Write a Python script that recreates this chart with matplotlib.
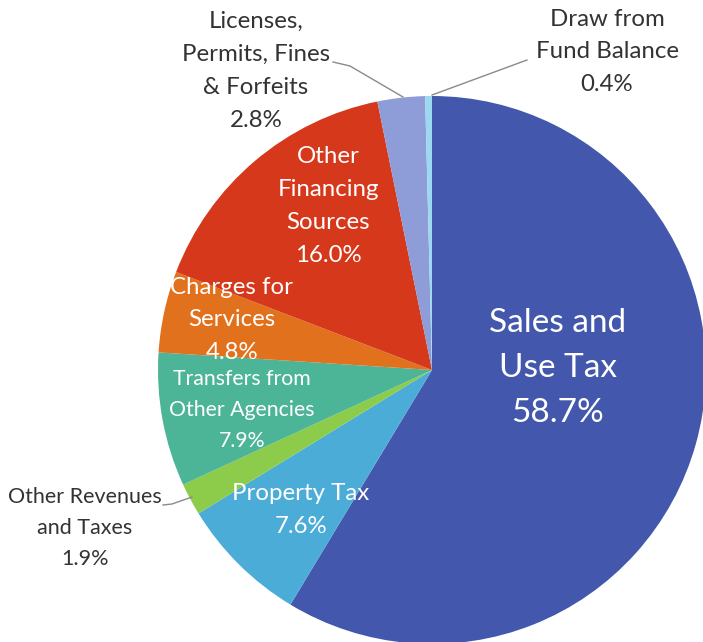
import matplotlib
matplotlib.use("Agg")
import matplotlib.pyplot as plt

plt.rcParams['font.family'] = ['Lato', 'DejaVu Sans']

# data
labels = ["Sales and\nUse Tax", "Property Tax", "Other Revenues\nand Taxes",
          "Transfers from\nOther Agencies", "Charges for\nServices",
          "Other\nFinancing\nSources", "Licenses,\nPermits, Fines\n& Forfeits",
          "Draw from\nFund Balance"]
shares = [58.7, 7.6, 1.9, 7.9, 4.8, 16.0, 2.8, 0.4]
colors = ["#4358AC", "#4BADD7", "#8DCB4B", "#4CB597", "#E2711D",
          "#D6381C", "#8E9CD8", "#9CD8F0"]

W, H = 703, 642
fig = plt.figure(figsize=(W / 100, H / 100), dpi=100)
ax = fig.add_axes([0, 0, 1, 1])

def py(y):
    # pixel row from top -> data y
    return H - y

ax.pie(shares, colors=colors, startangle=90, counterclock=False,
       center=(432, py(370)), radius=274, frame=True,
       wedgeprops=dict(linewidth=0))
ax.set_xlim(0, W)
ax.set_ylim(0, H)
ax.set_aspect('equal')
ax.axis('off')

# label placement: (x, y center in pixels, color, size, linespacing)
dark = "#333333"
place = [
    (558, 368, "white", 24, 1.61),
    (301, 510, "white", 17.3, 1.72),
    (85, 528, dark, 15.5, 1.68),
    (242, 410, "white", 15.3, 1.7),
    (232, 320, "white", 17.3, 1.66),
    (328, 206, "white", 17.3, 1.69),
    (256, 71, dark, 17.3, 1.72),
    (607, 52, dark, 17.3, 1.69),
]
for lab, s, (x, y, c, fs, ls) in zip(labels, shares, place):
    ax.text(x, py(y), f"{lab}\n{s:.1f}%", ha='center', va='center',
            color=c, fontsize=fs, linespacing=ls)

# leader lines
lc = "#8a8a8a"
ax.plot([333, 350, 403], [py(62), py(66), py(97)], color=lc, lw=1)
ax.plot([432, 527], [py(95), py(60)], color=lc, lw=1)
ax.plot([163, 172, 192], [py(505), py(504), py(497)], color=lc, lw=1)

fig.savefig("out.png", dpi=100)
